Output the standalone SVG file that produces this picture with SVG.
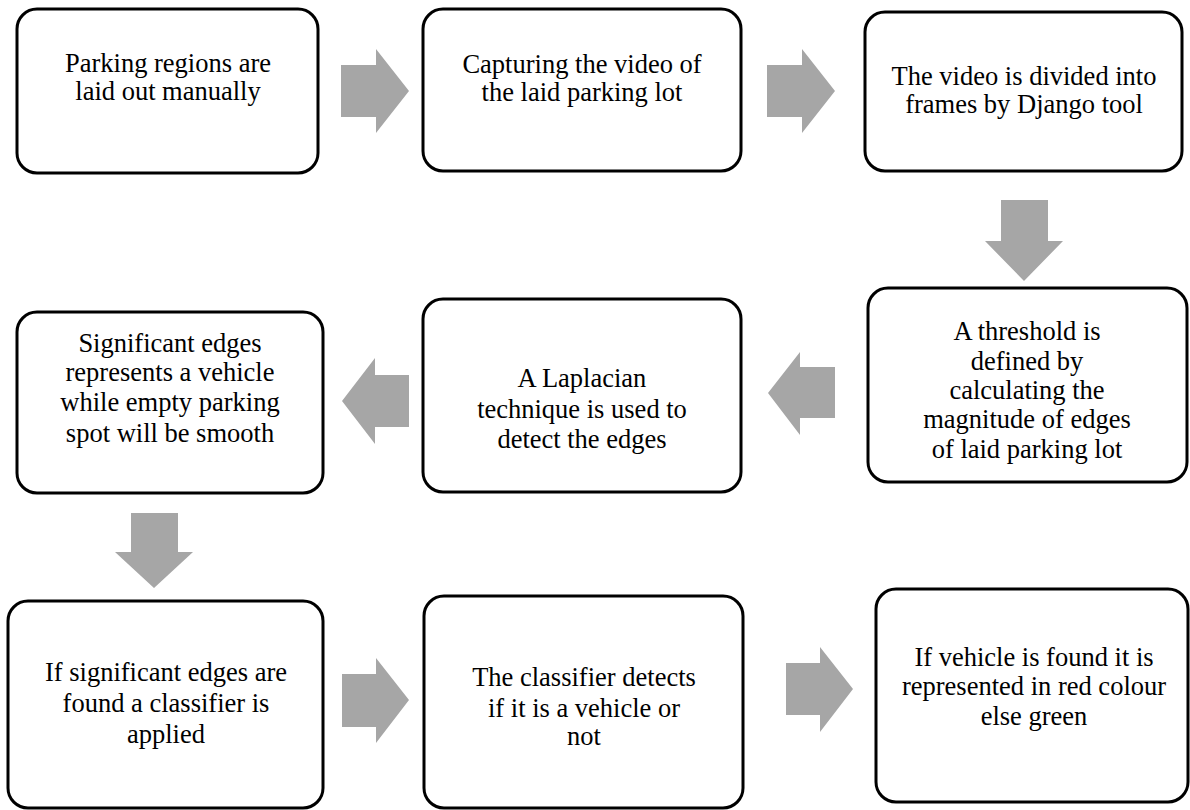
<svg xmlns="http://www.w3.org/2000/svg" width="1190" height="810" viewBox="0 0 1190 810">
<style>
.box{fill:#ffffff;stroke:#000000;stroke-width:3}
.arr{fill:#a6a6a6}
</style>
<rect width="1190" height="810" fill="#ffffff"/>
<g id="connectors">
<polygon class="arr" points="341,65 376,65 376,49 409,91 376,133 376,117 341,117"/>
<polygon class="arr" points="767,65 802,65 802,49 835,91 802,133 802,117 767,117"/>
<polygon class="arr" points="1001,200 1048,200 1048,241 1063,241 1024,281 985,241 1001,241"/>
<polygon class="arr" points="835,367 800,367 800,352 768,393 800,435 800,418 835,418"/>
<polygon class="arr" points="409,375 375,375 375,358 342,401 375,444 375,427 409,427"/>
<polygon class="arr" points="131,513 178,513 178,552 193,552 154,588 115,552 131,552"/>
<polygon class="arr" points="342,674 376,674 376,658 409,700 376,743 376,727 342,727"/>
<polygon class="arr" points="786,663 820,663 820,647 853,689 820,732 820,715 786,715"/>
</g>
<g id="n1">
<rect class="box" x="17" y="9" width="301" height="164" rx="20"/>
<text font-family="Liberation Serif" font-size="26.5" text-anchor="middle" x="168" y="72">Parking regions are</text>
<text font-family="Liberation Serif" font-size="26.5" text-anchor="middle" x="168" y="100">laid out manually</text>
</g>
<g id="n2">
<rect class="box" x="423" y="9" width="318" height="162" rx="20"/>
<text font-family="Liberation Serif" font-size="26.5" text-anchor="middle" x="582" y="73">Capturing the video of</text>
<text font-family="Liberation Serif" font-size="26.5" text-anchor="middle" x="582" y="101">the laid parking lot</text>
</g>
<g id="n3">
<rect class="box" x="865" y="12" width="317" height="159" rx="20"/>
<text font-family="Liberation Serif" font-size="26.5" text-anchor="middle" x="1024" y="85">The video is divided into</text>
<text font-family="Liberation Serif" font-size="26.5" text-anchor="middle" x="1024" y="113">frames by Django tool</text>
</g>
<g id="n4">
<rect class="box" x="868" y="288" width="319" height="194" rx="20"/>
<text font-family="Liberation Serif" font-size="26.5" text-anchor="middle" x="1027" y="340">A threshold is</text>
<text font-family="Liberation Serif" font-size="26.5" text-anchor="middle" x="1027" y="370">defined by</text>
<text font-family="Liberation Serif" font-size="26.5" text-anchor="middle" x="1027" y="399">calculating the</text>
<text font-family="Liberation Serif" font-size="26.5" text-anchor="middle" x="1027" y="428">magnitude of edges</text>
<text font-family="Liberation Serif" font-size="26.5" text-anchor="middle" x="1027" y="458">of laid parking lot</text>
</g>
<g id="n5">
<rect class="box" x="423" y="299" width="318" height="193" rx="20"/>
<text font-family="Liberation Serif" font-size="26.5" text-anchor="middle" x="582" y="387">A Laplacian</text>
<text font-family="Liberation Serif" font-size="26.5" text-anchor="middle" x="582" y="418">technique is used to</text>
<text font-family="Liberation Serif" font-size="26.5" text-anchor="middle" x="582" y="448">detect the edges</text>
</g>
<g id="n6">
<rect class="box" x="17" y="312" width="306" height="181" rx="20"/>
<text font-family="Liberation Serif" font-size="26.5" text-anchor="middle" x="170" y="352">Significant edges</text>
<text font-family="Liberation Serif" font-size="26.5" text-anchor="middle" x="170" y="381">represents a vehicle</text>
<text font-family="Liberation Serif" font-size="26.5" text-anchor="middle" x="170" y="411">while empty parking</text>
<text font-family="Liberation Serif" font-size="26.5" text-anchor="middle" x="170" y="442">spot will be smooth</text>
</g>
<g id="n7">
<rect class="box" x="8" y="601" width="315" height="207" rx="20"/>
<text font-family="Liberation Serif" font-size="26.5" text-anchor="middle" x="166" y="681">If significant edges are</text>
<text font-family="Liberation Serif" font-size="26.5" text-anchor="middle" x="166" y="712">found a classifier is</text>
<text font-family="Liberation Serif" font-size="26.5" text-anchor="middle" x="166" y="743">applied</text>
</g>
<g id="n8">
<rect class="box" x="424" y="596" width="319" height="212" rx="20"/>
<text font-family="Liberation Serif" font-size="26.5" text-anchor="middle" x="584" y="686">The classifier detects</text>
<text font-family="Liberation Serif" font-size="26.5" text-anchor="middle" x="584" y="717">if it is a vehicle or</text>
<text font-family="Liberation Serif" font-size="26.5" text-anchor="middle" x="584" y="745">not</text>
</g>
<g id="n9">
<rect class="box" x="876" y="589" width="312" height="213" rx="20"/>
<text font-family="Liberation Serif" font-size="26.5" text-anchor="middle" x="1034" y="666">If vehicle is found it is</text>
<text font-family="Liberation Serif" font-size="26.5" text-anchor="middle" x="1034" y="695">represented in red colour</text>
<text font-family="Liberation Serif" font-size="26.5" text-anchor="middle" x="1034" y="725">else green</text>
</g>
</svg>
